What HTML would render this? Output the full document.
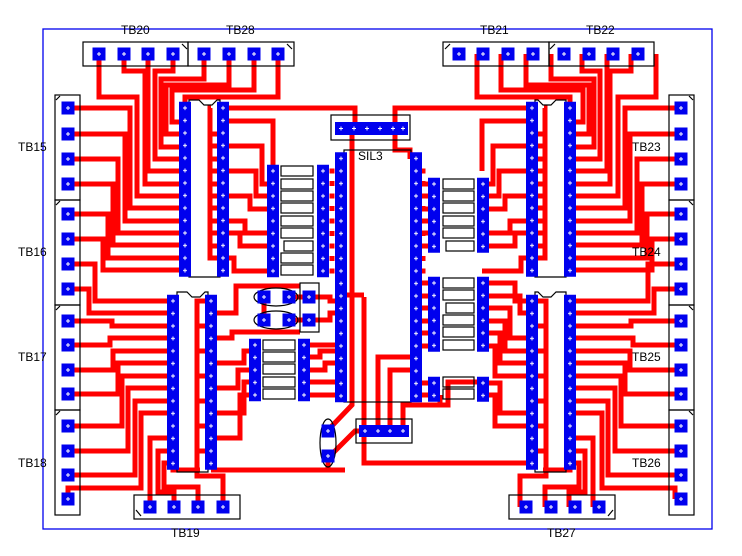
<!DOCTYPE html>
<html><head><meta charset="utf-8">
<style>
html,body{margin:0;padding:0;background:#fff;}
svg{display:block;font-family:"Liberation Sans",sans-serif;}
</style></head>
<body>
<svg width="742" height="556" viewBox="0 0 742 556" xmlns="http://www.w3.org/2000/svg">
<defs>
<pattern id="P" patternUnits="userSpaceOnUse" width="12" height="12.5">
<rect width="12" height="12.5" fill="#0000ee"/>
<path d="M4,6.25h4M6,4.25v4" stroke="#fff" stroke-width="1"/>
</pattern>
<g id="pd"><rect x="-6.5" y="-6.5" width="13" height="13" fill="#0000ee"/><path d="M-2,0h4M0,-2v4" stroke="#fff" stroke-width="1"/></g>

<!-- upper traces + upper headers -->
<g id="LT">
<g fill="none" stroke="#f00" stroke-width="5">
<path d="M99,54V97H137V196H185"/>
<path d="M124,54V71H145V184H185"/>
<path d="M148,54V171H185"/>
<path d="M173,54V71H155V159H185"/>
<path d="M204,54V79H161V147H185"/>
<path d="M229,54V85H166V134H185"/>
<path d="M254,54V90H172V122H185"/>
<path d="M278,54V97H185V108"/>
<path d="M68,108H130V208H185"/>
<path d="M68,134H125V221H185"/>
<path d="M68,159H118V233H185"/>
<path d="M68,184H113V245H185"/>
<path d="M68,214H108V258H185"/>
<path d="M68,239H103V270H185"/>
<path d="M211,108H210V258H223"/>
<path d="M210,134H223M210,146H223M210,159H223M210,171H223M210,184H223M210,196H223M210,208H223M210,221H223M210,233H223M210,246H223"/>
<path d="M223,121H273V171"/>
<path d="M223,146H262V184H273"/>
<path d="M223,171H256V196H273"/>
<path d="M223,196H250V209H273"/>
<path d="M223,221H245V233H273"/>
<path d="M223,233H240V246H273"/>
<path d="M223,258H234V271H273"/>
<path d="M332,168.5V274" stroke-dasharray="5 7.5"/>
</g>
<path d="M189,100h10l5,5h8l5,-5h3v177h-31z" fill="none" stroke="#000" stroke-width="1.2"/>
<g transform="translate(179,101.75)"><rect width="12" height="175" fill="url(#P)"/></g>
<g transform="translate(217,101.75)"><rect width="12" height="175" fill="url(#P)"/></g>
</g>

<!-- top connectors -->
<g id="TC">
<g fill="none" stroke="#000" stroke-width="1.2">
<rect x="83" y="42" width="105" height="24"/><rect x="188" y="42" width="106" height="24"/>
<path d="M182,44l5,5M287,44l5,5"/>
</g>
<use href="#pd" x="99" y="54"/><use href="#pd" x="124" y="54"/><use href="#pd" x="148" y="54"/><use href="#pd" x="173" y="54"/>
<use href="#pd" x="204" y="54"/><use href="#pd" x="229" y="54"/><use href="#pd" x="254" y="54"/><use href="#pd" x="278" y="54"/>
</g>

<!-- lower traces + lower headers -->
<g id="LB">
<g fill="none" stroke="#f00" stroke-width="5">
<path d="M68,264H95V301H173"/>
<path d="M68,289H89V313H173"/>
<path d="M68,321H112V326H173"/>
<path d="M68,345H110V338H173"/>
<path d="M68,370H113V351H173"/>
<path d="M68,394H118V363H173"/>
<path d="M68,426H122V376H173"/>
<path d="M68,451H128V388H173"/>
<path d="M68,475H135V401H173"/>
<path d="M68,499V488H141V413H173"/>
<path d="M150,507V438H173"/>
<path d="M174,507V492H158V451H173"/>
<path d="M198,507V487H164V463H173"/>
<path d="M223,507V476H197V301H211"/>
<path d="M197,326H211M197,351H211M197,376H211M197,401H211M197,426H211M197,451H211"/>
<path d="M173,463V470H200"/>
</g>
<path d="M177,292h10l5,5h8l5,-5h3v180h-31z" fill="none" stroke="#000" stroke-width="1.2"/>
<g transform="translate(167,294.75)"><rect width="12" height="175" fill="url(#P)"/></g>
<g transform="translate(205,294.75)"><rect width="12" height="175" fill="url(#P)"/></g>
</g>

<!-- side + bottom connectors -->
<g id="LP">
<g fill="none" stroke="#000" stroke-width="1.2">
<rect x="55" y="95" width="25" height="105"/><rect x="55" y="200" width="25" height="105"/>
<rect x="55" y="305" width="25" height="105"/><rect x="55" y="410" width="25" height="105"/>
<rect x="134" y="495" width="106" height="24"/>
<path d="M56,100l4,-4M56,205l4,-4M56,310l4,-4M56,415l4,-4M136,510l5,6"/>
</g>
<use href="#pd" x="68" y="108"/><use href="#pd" x="68" y="134"/><use href="#pd" x="68" y="159"/><use href="#pd" x="68" y="184"/>
<use href="#pd" x="68" y="214"/><use href="#pd" x="68" y="239"/><use href="#pd" x="68" y="264"/><use href="#pd" x="68" y="289"/>
<use href="#pd" x="68" y="321"/><use href="#pd" x="68" y="345"/><use href="#pd" x="68" y="370"/><use href="#pd" x="68" y="394"/>
<use href="#pd" x="68" y="426"/><use href="#pd" x="68" y="451"/><use href="#pd" x="68" y="475"/><use href="#pd" x="68" y="499"/>
<use href="#pd" x="150" y="507"/><use href="#pd" x="174" y="507"/><use href="#pd" x="198" y="507"/><use href="#pd" x="223" y="507"/>
</g>
</defs>
<rect width="742" height="556" fill="#fff"/>
<rect x="43" y="29" width="669" height="500" fill="none" stroke="#0000ee" stroke-width="1.3"/>

<!-- middle traces (explicit) -->
<g fill="none" stroke="#f00" stroke-width="5">
<path d="M223,108H355V128"/>
<path d="M533,108H395V128"/>
<path d="M395,135V150H410V159"/>
<path d="M352,135V405L330,428"/>
<path d="M364,297V463H528"/>
<path d="M378,431V357H416"/>
<path d="M390,431V370H416"/>
<path d="M403,431V405H448V382H477"/>
<path d="M365,431H355L330,456"/>
<path d="M328,456V470"/>
<path d="M211,470H345"/>
<path d="M211,313H236V286H300"/>
<path d="M211,338H232V332H300"/>
<path d="M211,363H244V351H249"/>
<path d="M211,388H238V370H249"/>
<path d="M211,413H244V382H249"/>
<path d="M211,438H240V395H249"/>
<path d="M422,184H428M422,196H428M422,209H428M422,221H428M422,233H428M422,246H428"/>
<path d="M422,283H428M422,296H428M422,308H428M422,321H428M422,333H428M422,346H428M422,383H428M422,395H428"/>
<path d="M264,297V320M289,297H309M289,320H309"/>
<path d="M309,297H330V301H341M309,320H330V313H341"/>
<path d="M310,345H335M310,357H320V351H335M310,370H325V363H335M310,382H335M310,395H335"/>
<path d="M347,295H364"/>
<path d="M489,283H515V301H533M489,296H520V313H533M489,308H510V338H533M489,321H505V351H533M489,333H500V363H533M489,346H495V376H533"/>
<path d="M489,383H500V413H533M489,395H495V426H533"/>
<path d="M440,395V405"/>
</g>

<use href="#LT"/>
<use href="#LT" transform="translate(755,0) scale(-1,1)"/>
<use href="#TC"/>
<use href="#TC" transform="translate(737,0) scale(-1,1)"/>
<use href="#LB"/>
<use href="#LB" transform="translate(743,0) scale(-1,1)"/>
<use href="#LP"/>
<use href="#LP" transform="translate(749,0) scale(-1,1)"/>

<!-- middle outlines -->
<g fill="none" stroke="#000" stroke-width="1.2">
<rect x="331" y="115" width="79" height="25"/>
<rect x="344" y="150" width="67" height="252"/>
<rect x="356" y="419" width="56" height="24"/>
<ellipse cx="276" cy="297" rx="22" ry="9"/>
<ellipse cx="276" cy="320" rx="22" ry="9"/>
<rect x="300" y="283" width="19" height="49"/>
<ellipse cx="328" cy="443" rx="8" ry="24"/>
<rect x="281" y="166" width="32" height="10"/><rect x="281" y="179" width="32" height="10"/><rect x="281" y="191" width="32" height="10"/>
<rect x="281" y="203" width="32" height="10"/><rect x="281" y="216" width="32" height="10"/><rect x="281" y="228" width="32" height="10"/>
<rect x="284" y="241" width="29" height="10"/><rect x="281" y="253" width="32" height="10"/><rect x="281" y="265" width="32" height="10"/>
<rect x="263" y="340" width="32" height="10"/><rect x="263" y="352" width="32" height="10"/><rect x="263" y="364" width="32" height="10"/>
<rect x="263" y="377" width="32" height="10"/><rect x="263" y="389" width="32" height="10"/>
<rect x="443" y="179" width="31" height="10"/><rect x="443" y="191" width="31" height="10"/><rect x="443" y="203" width="31" height="10"/>
<rect x="443" y="216" width="31" height="10"/><rect x="443" y="228" width="31" height="10"/><rect x="446" y="241" width="28" height="10"/>
<rect x="443" y="278" width="31" height="10"/><rect x="443" y="290" width="31" height="10"/><rect x="446" y="303" width="28" height="10"/>
<rect x="443" y="315" width="31" height="10"/><rect x="443" y="327" width="31" height="10"/><rect x="443" y="340" width="31" height="10"/>
<rect x="443" y="377" width="31" height="10"/><rect x="443" y="389" width="31" height="10"/>
</g>

<!-- middle bars -->
<rect x="335" y="122" width="73" height="13" fill="#0000ee"/>
<path d="M339,128.5h4M341,126.5v4M352,128.5h4M354,126.5v4M365,128.5h4M367,126.5v4M378,128.5h4M380,126.5v4M391,128.5h4M393,126.5v4M401,128.5h4M403,126.5v4" stroke="#fff" stroke-width="1"/>
<g transform="translate(267,164.75)"><rect width="12" height="112.5" fill="url(#P)"/></g>
<g transform="translate(317,164.75)"><rect width="12" height="112.5" fill="url(#P)"/></g>
<g transform="translate(335,152.25)"><rect width="12" height="250" fill="url(#P)"/></g>
<g transform="translate(410,152.25)"><rect width="12" height="250" fill="url(#P)"/></g>
<g transform="translate(428,177.75)"><rect width="12" height="75" fill="url(#P)"/></g>
<g transform="translate(477,177.75)"><rect width="12" height="75" fill="url(#P)"/></g>
<g transform="translate(428,276.75)"><rect width="12" height="75" fill="url(#P)"/></g>
<g transform="translate(477,276.75)"><rect width="12" height="75" fill="url(#P)"/></g>
<g transform="translate(428,376.75)"><rect width="12" height="25" fill="url(#P)"/></g>
<g transform="translate(477,376.75)"><rect width="12" height="25" fill="url(#P)"/></g>
<g transform="translate(249,338.75)"><rect width="12" height="62.5" fill="url(#P)"/></g>
<g transform="translate(298,338.75)"><rect width="12" height="62.5" fill="url(#P)"/></g>
<rect x="359" y="425" width="50" height="12" fill="#0000ee"/>
<path d="M363,431h4M365,429v4M376,431h4M378,429v4M388,431h4M390,429v4M401,431h4M403,429v4" stroke="#fff" stroke-width="1"/>
<use href="#pd" x="264" y="297"/><use href="#pd" x="289" y="297"/><use href="#pd" x="309" y="297"/>
<use href="#pd" x="264" y="320"/><use href="#pd" x="289" y="320"/><use href="#pd" x="309" y="320"/>
<use href="#pd" x="328" y="431"/><use href="#pd" x="328" y="456"/>

<!-- labels -->
<g font-size="12" fill="#000">
<text x="121" y="34">TB20</text>
<text x="226" y="34">TB28</text>
<text x="480" y="34">TB21</text>
<text x="586" y="34">TB22</text>
<text x="18" y="151">TB15</text>
<text x="18" y="256">TB16</text>
<text x="18" y="361">TB17</text>
<text x="18" y="467">TB18</text>
<text x="632" y="151">TB23</text>
<text x="632" y="256">TB24</text>
<text x="632" y="361">TB25</text>
<text x="632" y="467">TB26</text>
<text x="171" y="537">TB19</text>
<text x="547" y="537">TB27</text>
<text x="358" y="160">SIL3</text>
</g>
</svg>
</body></html>
